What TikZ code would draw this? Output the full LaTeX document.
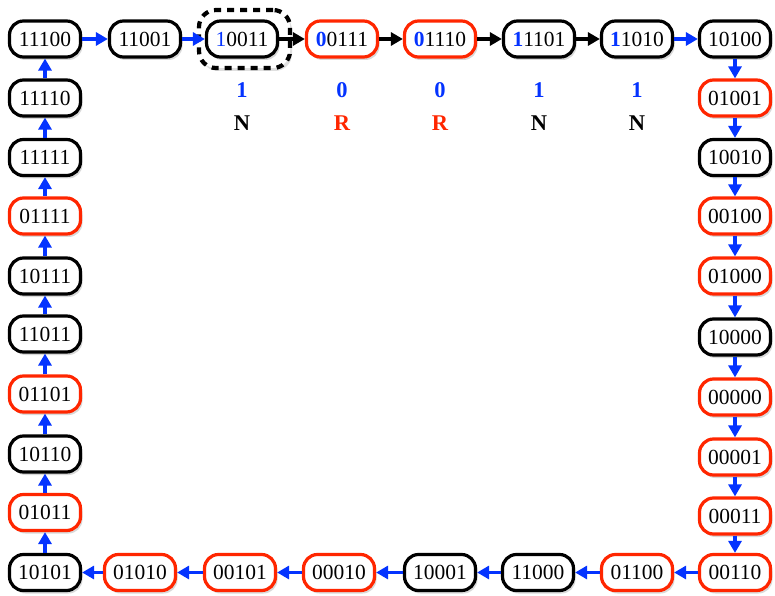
\documentclass[tikz,border=0pt]{standalone}
\usepackage{fontspec}
\setmainfont{Liberation Serif}
\usetikzlibrary{arrows.meta,shadows}

\begin{document}
\begin{tikzpicture}[x=1pt,y=1pt,
  word/.style={draw=black,line width=3.2pt,rounded corners=14pt,fill=white,
    minimum width=71pt,minimum height=36pt,inner sep=0pt,font=\fword,
    drop shadow={shadow xshift=2pt,shadow yshift=-3pt,opacity=0.3}},
  rword/.style={word,draw=figred},
  selbox/.style={draw=black,line width=4.2pt,dash pattern=on 7pt off 6pt,
    rounded corners=17pt,fill=white,minimum width=91pt,minimum height=58pt,
    drop shadow={shadow xshift=2pt,shadow yshift=-3pt,opacity=0.25}},
  barr/.style={-{Triangle[length=12pt,width=13pt]},line width=3.2pt,draw=figblue},
  karr/.style={barr,draw=black},
  bitlbl/.style={inner sep=0pt,font=\flbl\bfseries,text=figblue},
  nlbl/.style={inner sep=0pt,font=\flbl\bfseries,text=black},
  rlbl/.style={nlbl,text=figred}]
\definecolor{figblue}{RGB}{4,51,255}
\definecolor{figred}{RGB}{255,38,0}
\providecommand{\fword}{\fontsize{21.5}{24}\selectfont}
\providecommand{\flbl}{\fontsize{22.5}{25}\selectfont}
\providecommand{\hb}[1]{\textcolor{figblue}{\textbf{#1}}}
\useasboundingbox (0,0) rectangle (775,595);
% selected word
\node[selbox] (sel) at (244.5,556) {};
% top row
\node[word] (s11100) at (45,556) {11100};
\node[word] (s11001) at (145,556) {11001};
\node[word] (s10011) at (242,556) {\textcolor{figblue}{1}0011};
\node[rword] (s00111) at (342,556) {\hb{0}0111};
\node[rword] (s01110) at (440,556) {\hb{0}1110};
\node[word] (s11101) at (539,556) {\hb{1}1101};
\node[word] (s11010) at (637,556) {\hb{1}1010};
\node[word] (s10100) at (735,556) {10100};
% right column
\node[rword] (s01001) at (735,497) {01001};
\node[word] (s10010) at (735,437.5) {10010};
\node[rword] (s00100) at (735,379) {00100};
\node[rword] (s01000) at (735,319) {01000};
\node[word] (s10000) at (735,258) {10000};
\node[rword] (s00000) at (735,198) {00000};
\node[rword] (s00001) at (735,138) {00001};
\node[rword] (s00011) at (735,79) {00011};
\node[rword] (s00110) at (735,22.5) {00110};
% bottom row
\node[rword] (s01100) at (637,22.5) {01100};
\node[word] (s11000) at (538,22.5) {11000};
\node[word] (s10001) at (440,22.5) {10001};
\node[rword] (s00010) at (339,22.5) {00010};
\node[rword] (s00101) at (240,22.5) {00101};
\node[rword] (s01010) at (140,22.5) {01010};
\node[word] (s10101) at (45,22.5) {10101};
% left column
\node[rword] (s01011) at (45,82.5) {01011};
\node[word] (s10110) at (45,141) {10110};
\node[rword] (s01101) at (45,201) {01101};
\node[word] (s11011) at (45,261) {11011};
\node[word] (s10111) at (45,319) {10111};
\node[rword] (s01111) at (45,379) {01111};
\node[word] (s11111) at (45,437.5) {11111};
\node[word] (s11110) at (45,497) {11110};
% shifted bits and verdicts
\node[bitlbl] (b1) at (242,505) {1};
\node[bitlbl] (b2) at (342,505) {0};
\node[bitlbl] (b3) at (440,505) {0};
\node[bitlbl] (b4) at (539,505) {1};
\node[bitlbl] (b5) at (637,505) {1};
\node[nlbl] (v1) at (242,472) {N};
\node[rlbl] (v2) at (342,472) {R};
\node[rlbl] (v3) at (440,472) {R};
\node[nlbl] (v4) at (539,472) {N};
\node[nlbl] (v5) at (637,472) {N};
% transitions
\draw[barr] (s11100) -- (s11001);
\draw[barr] (s11001) -- (s10011);
\draw[karr] (s10011) -- (s00111);
\draw[karr] (s00111) -- (s01110);
\draw[karr] (s01110) -- (s11101);
\draw[karr] (s11101) -- (s11010);
\draw[barr] (s11010) -- (s10100);
\draw[barr] (s10100) -- (s01001);
\draw[barr] (s01001) -- (s10010);
\draw[barr] (s10010) -- (s00100);
\draw[barr] (s00100) -- (s01000);
\draw[barr] (s01000) -- (s10000);
\draw[barr] (s10000) -- (s00000);
\draw[barr] (s00000) -- (s00001);
\draw[barr] (s00001) -- (s00011);
\draw[barr] (s00011) -- (s00110);
\draw[barr] (s00110) -- (s01100);
\draw[barr] (s01100) -- (s11000);
\draw[barr] (s11000) -- (s10001);
\draw[barr] (s10001) -- (s00010);
\draw[barr] (s00010) -- (s00101);
\draw[barr] (s00101) -- (s01010);
\draw[barr] (s01010) -- (s10101);
\draw[barr] (s10101) -- (s01011);
\draw[barr] (s01011) -- (s10110);
\draw[barr] (s10110) -- (s01101);
\draw[barr] (s01101) -- (s11011);
\draw[barr] (s11011) -- (s10111);
\draw[barr] (s10111) -- (s01111);
\draw[barr] (s01111) -- (s11111);
\draw[barr] (s11111) -- (s11110);
\draw[barr] (s11110) -- (s11100);
\end{tikzpicture}
\end{document}
